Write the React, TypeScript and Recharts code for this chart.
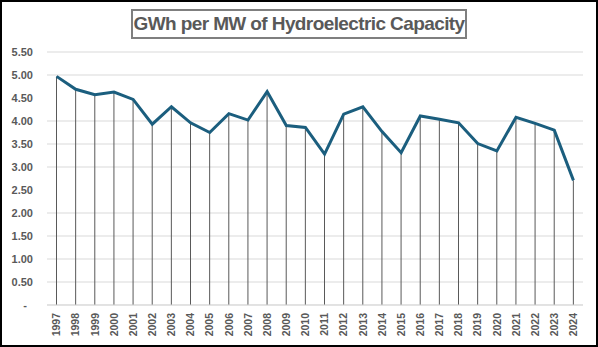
import { Bar, CartesianGrid, ComposedChart, Line, XAxis, YAxis } from "recharts";

const YEARS = [
  "1997", "1998", "1999", "2000", "2001", "2002", "2003", "2004", "2005", "2006",
  "2007", "2008", "2009", "2010", "2011", "2012", "2013", "2014", "2015", "2016",
  "2017", "2018", "2019", "2020", "2021", "2022", "2023", "2024",
];

const GWH_PER_MW = [
  4.97, 4.69, 4.57, 4.63, 4.47, 3.93, 4.31, 3.96, 3.75, 4.16,
  4.02, 4.64, 3.9, 3.86, 3.28, 4.15, 4.31, 3.77, 3.31, 4.11,
  4.04, 3.96, 3.51, 3.35, 4.08, 3.95, 3.8, 2.71,
];

const Y_TICKS = [0, 0.5, 1, 1.5, 2, 2.5, 3, 3.5, 4, 4.5, 5, 5.5];

const TITLE = "GWh per MW of Hydroelectric Capacity";

const FONT = "'Liberation Sans', Arial, sans-serif";
const TEXT_GREY = "#595959";

const data = YEARS.map((year, i) => ({ year, value: GWH_PER_MW[i] }));

function YearTick(props: any) {
  const { x, y, payload } = props;
  return (
    <text
      x={x}
      y={y}
      dy="0.35em"
      transform={`rotate(-90 ${x} ${y})`}
      textAnchor="end"
      fontFamily={FONT}
      fontSize={10.5}
      fontWeight="bold"
      fill={TEXT_GREY}
    >
      {payload.value}
    </text>
  );
}

export default function App() {
  return (
    <div style={{ position: "absolute", left: 0, top: 0, width: 598, height: 347, background: "#fff" }}>
      <div style={{ position: "absolute", left: 0, top: 0 }}>
        <ComposedChart
          width={598}
          height={347}
          data={data}
          margin={{ top: 52, right: 15, bottom: 0, left: 0 }}
        >
          <CartesianGrid vertical={false} stroke="#d9d9d9" strokeWidth={1} />
          <XAxis
            dataKey="year"
            interval={0}
            tickLine={false}
            tickSize={0}
            tickMargin={8}
            axisLine={{ stroke: "#d9d9d9" }}
            height={42}
            tick={<YearTick />}
          />
          <YAxis
            domain={[0, 5.5]}
            ticks={Y_TICKS}
            width={47}
            axisLine={false}
            tickLine={false}
            tickSize={0}
            tickMargin={14}
            tick={{ fontFamily: FONT, fontSize: 11, fontWeight: "bold", fill: TEXT_GREY }}
            tickFormatter={(v: number) => (v === 0 ? "-\u2007" : v.toFixed(2))}
          />
          <Bar dataKey="value" barSize={1} fill="#595959" isAnimationActive={false} />
          <Line
            type="linear"
            dataKey="value"
            stroke="#1B5E7E"
            strokeWidth={3}
            dot={false}
            activeDot={false}
            isAnimationActive={false}
          />
        </ComposedChart>
      </div>
      <div
        style={{
          position: "absolute",
          left: 131,
          top: 9,
          width: 336,
          height: 30,
          boxSizing: "border-box",
          border: "2px solid #7f7f7f",
          fontFamily: FONT,
          fontWeight: "bold",
          fontSize: 19,
          letterSpacing: -0.6,
          color: TEXT_GREY,
          lineHeight: "26px",
          textAlign: "center",
          whiteSpace: "nowrap",
        }}
      >
        {TITLE}
      </div>
      <div
        style={{
          position: "absolute",
          left: 0,
          top: 0,
          width: 598,
          height: 347,
          boxSizing: "border-box",
          border: "2px solid #000",
          pointerEvents: "none",
        }}
      />
    </div>
  );
}
